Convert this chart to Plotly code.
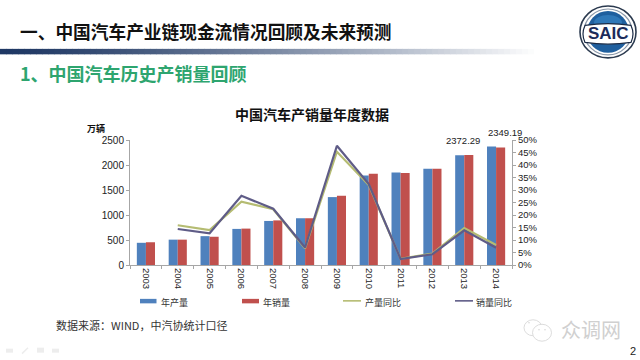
import plotly.graph_objects as go

years = ["2003","2004","2005","2006","2007","2008","2009","2010","2011","2012","2013","2014"]
production = [444, 507, 577, 722, 881, 935, 1358, 1790, 1850, 1927, 2194, 2372]
sales = [455, 507, 565, 728, 892, 935, 1385, 1823, 1842, 1927, 2198, 2349]
prod_yoy = [None, 15.9, 14.0, 25.3, 22.3, 6.7, 45.3, 32.0, 2.5, 4.6, 14.8, 8.0]
sales_yoy = [None, 14.4, 12.7, 27.7, 22.5, 7.0, 47.7, 32.4, 2.4, 4.3, 13.9, 6.9]
left_ticks = [0, 500, 1000, 1500, 2000, 2500]
right_ticks = [0, 5, 10, 15, 20, 25, 30, 35, 40, 45, 50]
right_labels = ["0%", "5%", "10%", "15%", "20%", "25%", "30%", "35%", "40%", "45%", "50%"]

L, R, T, B = 130, 512, 139.5, 265
W, H = 640, 360
CJK = "Noto Sans CJK SC"
SANS = "Liberation Sans"
BLUE, RED, OLIVE, PURPLE = "#4F81BD", "#C0504D", "#B5BC72", "#5F5C87"
def px(x): return (x - L) / (R - L)
def py(y): return (B - y) / (B - T)

fig = go.Figure()
fig.add_bar(name="年产量", x=years, y=production, marker_color=BLUE, marker_line_width=0, hoverinfo="skip")
fig.add_bar(name="年销量", x=years, y=sales, marker_color=RED, marker_line_width=0, hoverinfo="skip")
fig.add_scatter(name="产量同比", x=years, y=prod_yoy, yaxis="y2", mode="lines", line=dict(color=OLIVE, width=2.2))
fig.add_scatter(name="销量同比", x=years, y=sales_yoy, yaxis="y2", mode="lines", line=dict(color=PURPLE, width=2.2))

shapes = []
def rect(x0, y0, x1, y1, color, layer="above"):
    shapes.append(dict(type="rect", xref="paper", yref="paper", x0=px(x0), x1=px(x1), y0=py(y1), y1=py(y0),
                       fillcolor=color, line_width=0, layer=layer))
def ell(cx, cy, rx, ry, fill="rgba(0,0,0,0)", lw=0, lc="rgba(0,0,0,0)"):
    shapes.append(dict(type="circle", xref="paper", yref="paper", x0=px(cx-rx), x1=px(cx+rx),
                       y0=py(cy+ry), y1=py(cy-ry), fillcolor=fill, line=dict(width=lw, color=lc)))
def line(x0, y0, x1, y1, color, lw):
    shapes.append(dict(type="line", xref="paper", yref="paper", x0=px(x0), x1=px(x1), y0=py(y0), y1=py(y1),
                       line=dict(color=color, width=lw)))

# header gradient rule
n = 90
for i in range(n):
    t = (i / (n - 1)) ** 1.3
    col = f"rgb({int(31+224*t)},{int(56+199*t)},{int(100+155*t)})"
    rect(540 * i / n, 48, 540 * (i + 1) / n + 0.5, 53.5, col, "below")

# logo
ell(608, 31, 28, 26, "#FFFFFF", 1.6, "#2B3A4F")
ell(608, 31, 24, 23, "#FFFFFF", 1.2, "#8A97A8")
ell(608, 31, 21, 21, "#1F5F9E")
ell(608, 22, 14, 8, "#2F78B8")
a, b, c, d = px(585), px(631), py(24.5), py(41.5)
m = px(608)
shapes.append(dict(type="path", xref="paper", yref="paper", fillcolor="#FFFFFF",
                   line=dict(color="#1B2B45", width=1.2),
                   path=f"M {a} {c} Q {m} {py(21)} {b} {c} Q {px(635)} {py(33)} {b} {d} Q {m} {py(45)} {a} {d} Q {px(581)} {py(33)} {a} {c} Z"))

# legend
rect(140, 299, 156.5, 303.5, BLUE)
rect(242, 299, 259, 303.5, RED)
line(343, 301, 361, 301, OLIVE, 1.6)
line(455, 301, 473, 301, PURPLE, 1.6)

# watermark
WM = "#D8D8D8"
ell(533, 328, 9, 8, lw=0.9, lc=WM)
ell(542, 333, 9.5, 8.5, "#FFFFFF", 0.9, WM)
ell(539, 330, 0.8, 0.8, WM)
ell(545, 330, 0.8, 0.8, WM)
ell(529, 323, 0.8, 0.8, WM)

# footer nav icons
NAV = "#EDEDED"
rect(6, 349, 13, 353, NAV)
line(22, 354, 28, 348, NAV, 1.5)
rect(37, 348, 44, 353, NAV)
rect(52, 349, 59, 353, NAV)

anns = []
def text(x, y, s, size, color="#222222", family=CJK, bold=False, xa="left"):
    anns.append(dict(xref="paper", yref="paper", x=px(x), y=py(y), text=f"<b>{s}</b>" if bold else s, showarrow=False,
                     xanchor=xa, yanchor="middle", font=dict(size=size, color=color, family=family)))
text(18, 30, "一、中国汽车产业链现金流情况回顾及未来预测", 17.7, "#111111", bold=True)
text(18, 72, "1、中国汽车历史产销量回顾", 18, "#2EA56F", bold=True)
text(608.5, 33, "SAIC", 17, "#1B2B5A", SANS, True, "center")
text(312, 113, "中国汽车产销量年度数据", 14, "#111111", bold=True, xa="center")
text(85, 128, "万辆", 9, "#111111", bold=True)
text(463, 140, "2372.29", 9.5, "#222222", SANS, xa="center")
text(505, 131.5, "2349.19", 9.5, "#222222", SANS, xa="center")
text(54, 325.5, "数据来源：WIND，中汽协统计口径", 11, "#333333")
text(559, 330, "众调网", 20, "#D0D0D0")
text(638, 351, "2", 11, "#222222", SANS, xa="right")
text(159, 302.5, "年产量", 9, "#333333")
text(261, 302.5, "年销量", 9, "#333333")
text(363, 302.5, "产量同比", 9, "#333333")
text(474, 302.5, "销量同比", 9, "#333333")

AX = "#A6A6A6"
fig.update_layout(
    width=W, height=H, autosize=False,
    margin=dict(l=L, r=W - R, t=T, b=H - B, pad=0),
    paper_bgcolor="#FFFFFF", plot_bgcolor="#FFFFFF",
    barmode="group", bargap=0.43, bargroupgap=0,
    shapes=shapes, annotations=anns, showlegend=False,
    xaxis=dict(type="category", tickson="boundaries", ticks="outside", ticklen=3, tickcolor=AX,
               showline=True, linecolor=AX, linewidth=1, tickangle=90, showgrid=False,
               tickfont=dict(size=9.5, family=SANS, color="#222222")),
    yaxis=dict(range=[0, 2500], tickvals=left_ticks, ticks="outside", ticklen=3, tickcolor=AX,
               showline=True, linecolor=AX, showgrid=False, zeroline=False,
               tickfont=dict(size=10, family=SANS, color="#222222")),
    yaxis2=dict(range=[0, 50], overlaying="y", side="right", tickvals=right_ticks, ticktext=right_labels,
                ticks="outside", ticklen=3, tickcolor=AX, showline=True, linecolor=AX,
                showgrid=False, zeroline=False, tickfont=dict(size=9.5, family=SANS, color="#222222")),
)
fig.write_html("out.html", config=dict(displayModeBar=False),
               post_script="document.body.style.margin='0';")
